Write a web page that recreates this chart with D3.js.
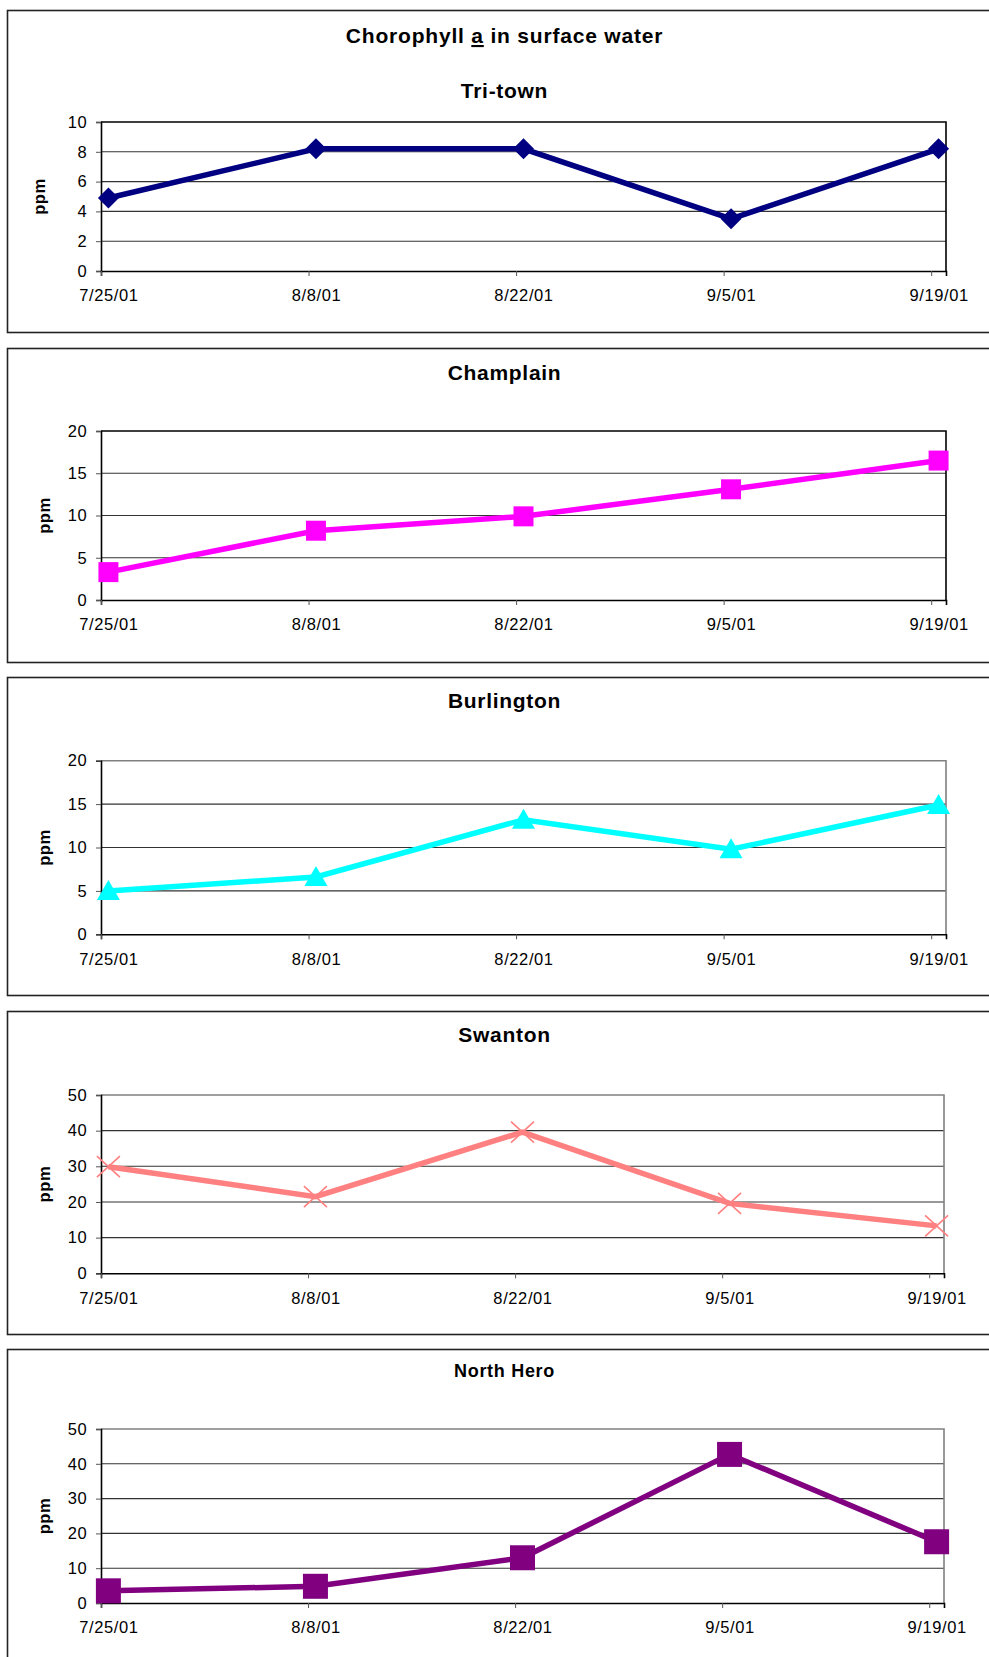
<!DOCTYPE html>
<html><head><meta charset="utf-8">
<script src="https://cdn.jsdelivr.net/npm/d3@7"></script>
<style>html,body{margin:0;padding:0;background:#fff;} svg{display:block;} text{font-family:"Liberation Sans",Arial,sans-serif;}</style>
</head><body>
<svg id="chart" width="989" height="1657"></svg>
<script>
// ---- data ----
const dates = ["2001-07-25","2001-08-08","2001-08-22","2001-09-05","2001-09-19"];
const siteNames = ["Tri-town","Champlain","Burlington","Swanton","North Hero"];
const triTown    = [4.9, 8.2, 8.2, 3.5, 8.2];
const champlain  = [3.3, 8.2, 9.9, 13.1, 16.5];
const burlington = [5.0, 6.6, 13.2, 9.8, 14.9];
const swanton    = [29.9, 21.5, 39.6, 19.6, 13.3];
const northHero  = [3.5, 4.8, 13.0, 42.7, 17.6];
const yTicks10 = [0, 2, 4, 6, 8, 10];
const yTicks20 = [0, 5, 10, 15, 20];
const yTicks50 = [0, 10, 20, 30, 40, 50];
const chartTitlePre = "Chorophyll ", chartTitleUnder = "a", chartTitlePost = " in surface water";
const yLabel = "ppm";

// ---- layout / styles ----
const layout = [
  {series: triTown, ticks: yTicks10, boxTop: 10.5, boxBottom: 332.5, titleY: 97.5, plotTop: 122, plotBottom: 271, right: 946, ppmX: 39, color: "#000080", marker: "diamond", frame: "#000", titleSize: 21},
  {series: champlain, ticks: yTicks20, boxTop: 348.5, boxBottom: 662.5, titleY: 379.5, plotTop: 431, plotBottom: 600, right: 946, ppmX: 44, color: "#FF00FF", marker: "square", msize: 20, frame: "#000", titleSize: 21},
  {series: burlington, ticks: yTicks20, boxTop: 677.5, boxBottom: 995.5, titleY: 708, plotTop: 760.7, plotBottom: 934.3, right: 946, ppmX: 44, color: "#00FFFF", marker: "triangle", frame: "#808080", titleSize: 21},
  {series: swanton, ticks: yTicks50, boxTop: 1011.5, boxBottom: 1334.5, titleY: 1042.2, plotTop: 1095, plotBottom: 1273.3, right: 944, ppmX: 44, color: "#FF8080", marker: "x", frame: "#808080", titleSize: 21},
  {series: northHero, ticks: yTicks50, boxTop: 1349.5, boxBottom: 1680, titleY: 1376.5, plotTop: 1429, plotBottom: 1603, right: 944, ppmX: 44, color: "#800080", marker: "square", msize: 25, frame: "#808080", titleSize: 18}
];
const plotLeft = 101;
const svg = d3.select("#chart");
const parse = d3.utcParse("%Y-%m-%d");
const fmt = d3.utcFormat("%-m/%-d/%y");
const dateObjs = dates.map(parse);

function markerPath(type, s) {
  if (type === "diamond") { const h = 10.5; return `M0,${-h}L${h},0L0,${h}L${-h},0Z`; }
  if (type === "square") { const h = s / 2; return `M${-h},${-h}H${h}V${h}H${-h}Z`; }
  if (type === "triangle") { return "M0,-11L11.5,9L-11.5,9Z"; }
  if (type === "x") { return "M-11.5,-10.5L11.5,10.5M11.5,-10.5L-11.5,10.5"; }
}

layout.forEach((p, i) => {
  const g = svg.append("g");
  // panel box
  g.append("rect").attr("x", 7.5).attr("y", p.boxTop).attr("width", 1000).attr("height", p.boxBottom - p.boxTop)
    .attr("fill", "#fff").attr("stroke", "#222").attr("stroke-width", 1.6);

  // titles
  if (i === 0) {
    const t = g.append("text").attr("x", 504.5).attr("y", 43).attr("text-anchor", "middle")
      .attr("font-size", 21).attr("font-weight", "bold").attr("letter-spacing", 0.8).attr("fill", "#000");
    t.append("tspan").text(chartTitlePre);
    t.append("tspan").style("text-decoration", "underline").text(chartTitleUnder);
    t.append("tspan").text(chartTitlePost);
  }
  g.append("text").attr("x", 504.5).attr("y", p.titleY).attr("text-anchor", "middle")
    .attr("font-size", p.titleSize).attr("font-weight", "bold").attr("letter-spacing", 0.7).attr("fill", "#000")
    .text(siteNames[i]);

  const x = d3.scaleUtc().domain([dateObjs[0], d3.utcDay.offset(dateObjs[dateObjs.length - 1], 1)]).range([plotLeft, p.right]);
  const yMax = p.ticks[p.ticks.length - 1];
  const y = d3.scaleLinear().domain([0, yMax]).range([p.plotBottom, p.plotTop]);
  const half = (x(d3.utcDay.offset(dateObjs[0], 1)) - x(dateObjs[0])) / 2;

  // gridlines
  g.append("g").selectAll("line").data(p.ticks.filter(t => t > 0 && t < yMax)).join("line")
    .attr("x1", plotLeft).attr("x2", p.right).attr("y1", d => y(d)).attr("y2", d => y(d))
    .attr("stroke", "#333").attr("stroke-width", 1.1);
  // plot frame top/right
  g.append("path").attr("d", `M${plotLeft},${p.plotTop}H${p.right}V${p.plotBottom}`)
    .attr("fill", "none").attr("stroke", p.frame).attr("stroke-width", 1.6);

  // y axis
  const ya = g.append("g").attr("transform", `translate(${plotLeft},0)`)
    .call(d3.axisLeft(y).tickValues(p.ticks).tickSize(5).tickPadding(9).tickFormat(d3.format("d")));
  ya.select(".domain").attr("stroke", "#000").attr("stroke-width", 1.6);
  ya.selectAll(".tick line").attr("stroke", "#555").attr("stroke-width", 1);
  ya.selectAll("text").attr("font-size", 16.5).attr("letter-spacing", 0.4).attr("font-family", "'Liberation Sans',Arial,sans-serif").attr("fill", "#000");

  // x axis
  const xa = g.append("g").attr("transform", `translate(0,${p.plotBottom})`)
    .call(d3.axisBottom(x).tickValues(dateObjs).tickSize(5).tickPadding(13.5).tickFormat(fmt));
  xa.select(".domain").attr("stroke", "#000").attr("stroke-width", 1.6);
  xa.selectAll(".tick line").attr("stroke", "#555").attr("stroke-width", 1);
  xa.selectAll("text").attr("x", half).attr("font-size", 16.5).attr("letter-spacing", 0.6)
    .attr("font-family", "'Liberation Sans',Arial,sans-serif").attr("fill", "#000");

  // y label
  g.append("text").attr("transform", `translate(${p.ppmX + 6},${(p.plotTop + p.plotBottom) / 2}) rotate(-90)`)
    .attr("text-anchor", "middle").attr("font-size", 16.5).attr("font-weight", "bold").attr("letter-spacing", 0.6)
    .text(yLabel);

  // line
  const pts = dateObjs.map((d, k) => [x(d3.utcHour.offset(d, 12)), y(p.series[k])]);
  g.append("path").attr("d", d3.line()(pts)).attr("fill", "none").attr("stroke", p.color)
    .attr("stroke-width", 5.5).attr("stroke-linejoin", "miter");
  // markers
  g.append("g").selectAll("path").data(pts).join("path")
    .attr("transform", d => `translate(${d[0]},${d[1]})`)
    .attr("d", markerPath(p.marker, p.msize))
    .attr("fill", p.marker === "x" ? "none" : p.color)
    .attr("stroke", p.color).attr("stroke-width", p.marker === "x" ? 1.6 : 0);
});
</script>
</body></html>
